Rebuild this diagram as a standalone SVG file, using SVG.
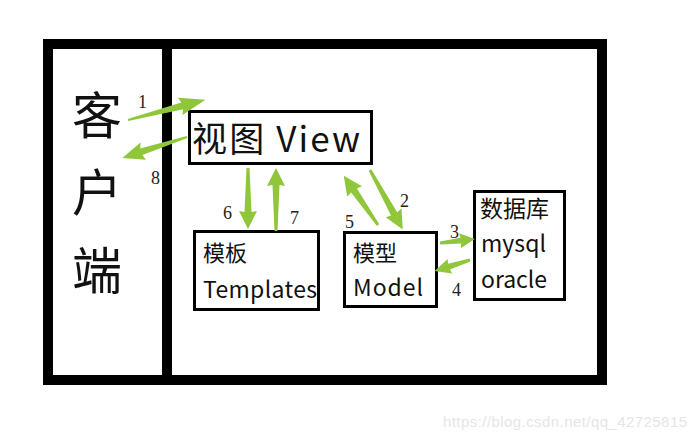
<svg xmlns="http://www.w3.org/2000/svg" width="696" height="440" viewBox="0 0 696 440">
<style>
.frame{fill:none;stroke:#000;stroke-width:10}
.box{fill:#fff;stroke:#000;stroke-width:3}
.t{font-family:"Noto Sans CJK SC","Noto Sans",sans-serif;fill:#111}
.n{font-family:"Liberation Serif",serif;font-size:18px;fill:#222}
.ar{fill:#8fc63a}
</style>
<rect width="696" height="440" fill="#fff"/>
<g id="frame">
<rect class="frame" x="48" y="44" width="554" height="336"/>
<rect x="162" y="44" width="10" height="336" fill="#000"/>
</g>
<g id="client">
<text class="t" x="97" y="134" font-size="50" text-anchor="middle">客</text>
<text class="t" x="97" y="211" font-size="50" text-anchor="middle">户</text>
<text class="t" x="97" y="289" font-size="50" text-anchor="middle">端</text>
</g>
<g id="view">
<rect class="box" x="189.5" y="111.5" width="182" height="52"/>
<text class="t" x="192" y="152" font-size="35" textLength="168">视图 View</text>
</g>
<g id="templates">
<rect class="box" x="194.5" y="231.5" width="124" height="78"/>
<text class="t" x="203" y="261" font-size="22">模板</text>
<text class="t" x="203" y="298" font-size="23" textLength="114">Templates</text>
</g>
<g id="model">
<rect class="box" x="344.5" y="232.5" width="92" height="74"/>
<text class="t" x="353" y="261" font-size="22">模型</text>
<text class="t" x="353" y="296" font-size="23" textLength="70">Model</text>
</g>
<g id="db">
<rect class="box" x="474.5" y="191.5" width="90" height="108"/>
<text class="t" x="480" y="217" font-size="23">数据库</text>
<text class="t" x="481" y="252" font-size="23" textLength="65">mysql</text>
<text class="t" x="481" y="288" font-size="23" textLength="66">oracle</text>
</g>
<g id="connectors">
<polygon class="ar" transform="translate(128,120) rotate(-14.6)" points="0,-1 56,-3.5 54,-9 80,0 54,9 56,3.5 0,1"/>
<polygon class="ar" transform="translate(187,137) rotate(162.1)" points="0,-1 48,-3.5 46,-9 68,0 46,9 48,3.5 0,1"/>
<polygon class="ar" transform="translate(248,168) rotate(90)" points="0,-1.5 44,-3.5 43,-9 61,0 43,9 44,3.5 0,1.5"/>
<polygon class="ar" transform="translate(276,231) rotate(-90)" points="0,-1.5 46,-3.5 45,-9 63,0 45,9 46,3.5 0,1.5"/>
<polygon class="ar" transform="translate(378,225) rotate(-124.8)" points="0,-1.5 42,-3.5 41,-9 60,0 41,9 42,3.5 0,1.5"/>
<polygon class="ar" transform="translate(370,170) rotate(61.2)" points="0,-1.5 50,-3.5 49,-9 68,0 49,9 50,3.5 0,1.5"/>
<polygon class="ar" transform="translate(440,243) rotate(-6.5)" points="0,-1.5 21,-3 20,-7.5 35,0 20,7.5 21,3 0,1.5"/>
<polygon class="ar" transform="translate(470,260) rotate(162.6)" points="0,-1.5 22,-3 21,-7.5 37,0 21,7.5 22,3 0,1.5"/>
<text class="n" x="138" y="108">1</text>
<text class="n" x="151" y="184">8</text>
<text class="n" x="223" y="219">6</text>
<text class="n" x="290" y="224">7</text>
<text class="n" x="345" y="228">5</text>
<text class="n" x="400" y="207">2</text>
<text class="n" x="450" y="238">3</text>
<text class="n" x="452" y="296">4</text>
</g>
<text x="443" y="427" font-family="Liberation Sans,Arial,sans-serif" font-size="15" fill="#e6e6e6" textLength="244">https://blog.csdn.net/qq_42725815</text>
</svg>
